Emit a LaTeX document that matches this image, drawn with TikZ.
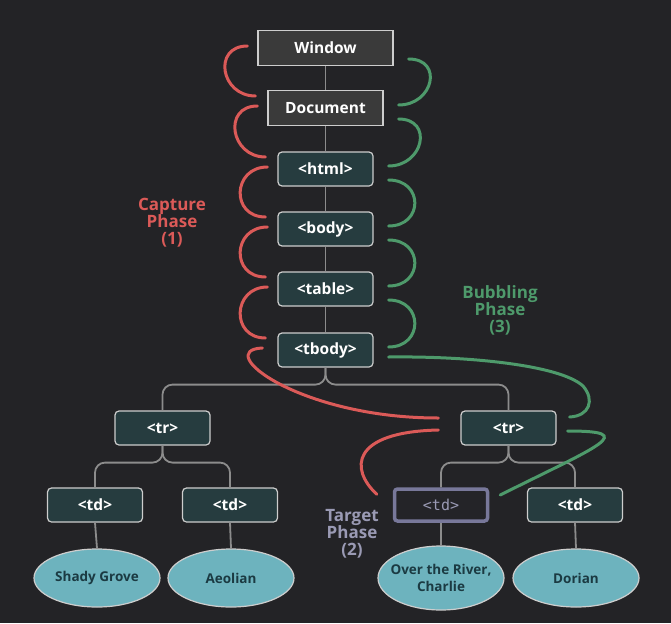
\documentclass[tikz,border=0pt]{standalone}
\usepackage{fontspec}
\setmainfont{Open Sans}
\newfontfamily\codefont{DejaVu Sans Mono}
\usetikzlibrary{shapes.geometric,calc}

\definecolor{bgdark}{HTML}{232326}
\definecolor{boxline}{HTML}{CDCDCD}
\definecolor{winfill}{HTML}{3A3A3A}
\definecolor{elemfill}{HTML}{263C3F}
\definecolor{tgtline}{HTML}{78789A}
\definecolor{tgtfill}{HTML}{242428}
\definecolor{tgttext}{HTML}{9A9AB4}
\definecolor{leaffill}{HTML}{6DB3BE}
\definecolor{leaftext}{HTML}{1B3A42}
\definecolor{treeline}{HTML}{8C8C8C}
\definecolor{capred}{HTML}{DB5A58}
\definecolor{bubgreen}{HTML}{4E9A6B}

\begin{document}
\begin{tikzpicture}[x=1pt,y=-1pt]
        \tikzstyle{winbox} = [draw=boxline, line width=1.2pt, fill=winfill, text=white, minimum height=35pt, font=\bfseries\fontsize{15.5}{17}\selectfont]
        \tikzstyle{elem} = [draw=boxline, line width=1.2pt, fill=elemfill, rounded corners=4pt, text=white, minimum width=95pt, minimum height=34pt, font=\bfseries\fontsize{15.5}{17}\selectfont]
        \tikzstyle{target} = [draw=tgtline, line width=3.5pt, fill=tgtfill, rounded corners=3pt, text=tgttext, minimum width=93pt, minimum height=32pt, font=\codefont\fontsize{15}{16}\selectfont]
        \tikzstyle{leaf} = [ellipse, draw=boxline, line width=1.2pt, fill=leaffill, text=leaftext, minimum width=126pt, minimum height=58pt, inner sep=0pt, align=center, font=\bfseries\fontsize{13.5}{17}\selectfont]
        \tikzstyle{branch} = [draw=treeline, line width=1.8pt, rounded corners=10pt]
        \tikzstyle{capture} = [draw=capred, line width=3pt, line cap=round]
        \tikzstyle{bubble} = [draw=bubgreen, line width=3pt, line cap=round]
        \tikzstyle{phase} = [align=center, font=\bfseries\fontsize{17}{17}\selectfont]

		\fill[bgdark] (0,0) rectangle (671,623);
		\useasboundingbox (0,0) rectangle (671,623);

		% the chain down to tbody
		\node[winbox, minimum width=135pt] (win) at (325.5,48) {Window};
		\node[winbox, minimum width=115pt] (doc) at (325.5,108) {Document};
		\node[elem] (html) at (325.5,169) {<html>};
		\node[elem] (body) at (325.5,229) {<body>};
		\node[elem] (table) at (325.5,289) {<table>};
		\node[elem] (tbody) at (325.5,350) {<tbody>};

		% rows and cells
		\node[elem] (trL) at (162.5,428) {<tr>};
		\node[elem] (trR) at (508.5,428) {<tr>};
		\node[elem] (tdA) at (95,505) {<td>};
		\node[elem] (tdB) at (230,505) {<td>};
		\node[target] (tdT) at (441,505) {<td>};
		\node[elem] (tdD) at (575,505) {<td>};

		\node[leaf] (shady) at (97,578) {Shady Grove};
		\node[leaf] (aeolian) at (231,578) {Aeolian};
		\node[leaf, minimum height=64pt, inner xsep=-13pt] (river) at (441,578) {Over the River,\\Charlie};
		\node[leaf] (dorian) at (576,578) {Dorian};

		% tree lines
		\foreach \a/\b in {win/doc, doc/html, html/body, body/table, table/tbody, tdA/shady, tdB/aeolian, tdT/river, tdD/dorian}
			\draw[branch] (\a.south) -- (\b.north);
		\foreach \a/\b in {tbody/trL, tbody/trR, trL/tdA, trL/tdB, trR/tdT, trR/tdD}
			\draw[branch] (\a.south) -- ++(0,17) -| (\b.north);

		% capture arcs
		\foreach \a/\b in {win/doc, doc/html, html/body, body/table, table/tbody}
			\draw[capture] ($(\a.west)+(-10,-2)$) .. controls +(-35,0) and +(-35,0) .. ($(\b.west)+(-12,-12)$);
		\draw[capture] ($(tbody.west)+(-15,-2)$) .. controls +(-50,2) and +(-140,0) .. ($(trR.west)+(-22,-10)$);
		\draw[capture] ($(trR.west)+(-22,2)$) .. controls +(-88,2) and +(-27,-25) .. ($(tdT.north west)+(-16,7)$);

		% bubbling arcs
		\foreach \a/\b in {win/doc, doc/html, html/body, body/table, table/tbody}
			\draw[bubble] ($(\a.east)+(15,11)$) .. controls +(35,0) and +(35,0) .. ($(\b.east)+(15,-3)$);
		\draw[bubble] ($(tdT.east)+(11,-10)$) .. controls +(100,-50) and +(72,0) .. ($(trR.east)+(11,3)$);
		\draw[bubble] ($(trR.east)+(13,-11)$) .. controls +(20,-1) and +(12,14) .. (583,386) .. controls +(-23,-21) and +(80,-1) .. ($(tbody.east)+(15,7)$);

		% phase labels
		\node[phase, text=capred] (capLbl) at (172,223) {Capture\\Phase\\(1)};
		\node[phase, text=bubgreen] (bubLbl) at (500,310) {Bubbling\\Phase\\(3)};
		\node[phase, text=tgttext] (tgtLbl) at (352,534) {Target\\Phase\\(2)};

    \end{tikzpicture}
\end{document}
